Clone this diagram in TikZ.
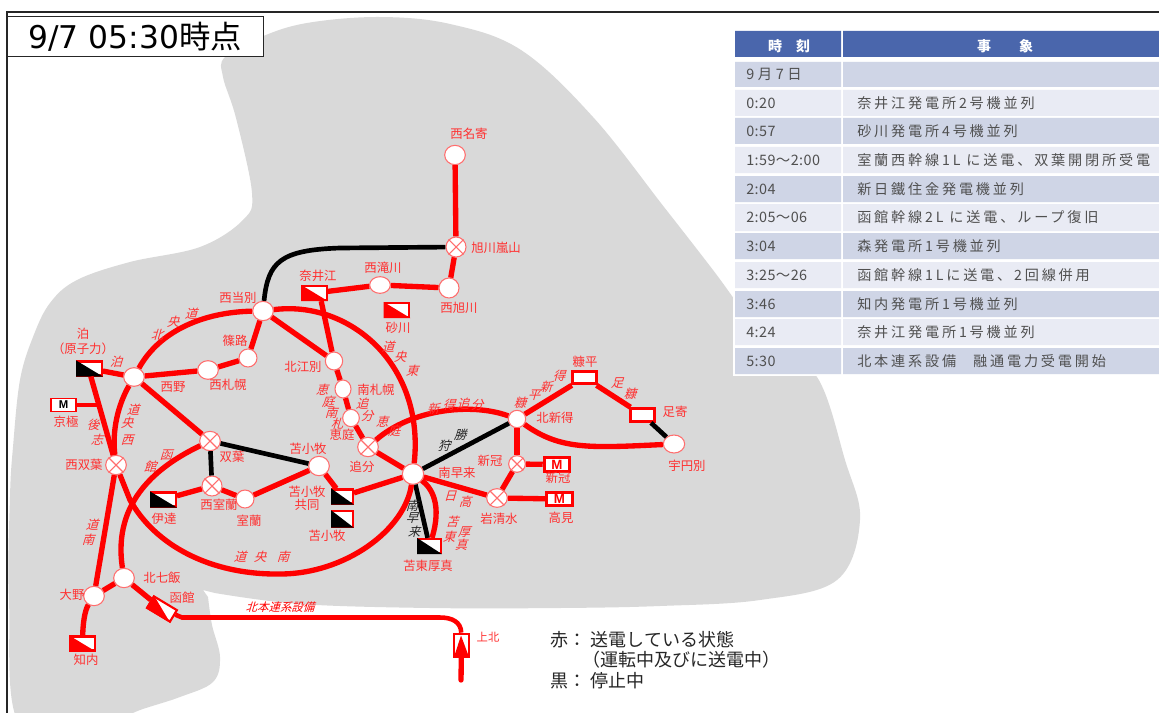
\documentclass[tikz,border=0pt]{standalone}
\usepackage{fontspec}
\usetikzlibrary{shapes.geometric}
\setmainfont{Noto Sans CJK JP}
\newfontfamily\itf[FakeSlant=0.3]{Noto Sans CJK JP}
\newfontfamily\tabf[LetterSpace=20]{Noto Sans CJK JP}
\newfontfamily\timef[LetterSpace=3]{Noto Sans CJK JP}
\newfontfamily\titlef{DejaVu Sans}
\newfontfamily\mf{Liberation Sans}
\definecolor{rd}{HTML}{FF0000}
\definecolor{lbl}{HTML}{FF3030}
\definecolor{gr}{HTML}{D9D9D9}
\definecolor{hdr}{HTML}{4A66AC}
\definecolor{rowa}{HTML}{CFD5E6}
\definecolor{rowb}{HTML}{E9EBF4}
\definecolor{ptxt}{HTML}{505050}
\tikzset{
  stn/.style={ellipse,draw=lbl!70!white,fill=white,line width=.8pt,inner sep=0pt,minimum width=15.5pt,minimum height=14.5pt},
  xl/.style={draw=lbl!70!white,line width=.8pt},
  genbox/.style={rectangle,draw=rd,fill=white,line width=1.6pt,inner sep=0pt,minimum width=18.5pt,minimum height=10.5pt},
  mbox/.style={rectangle,draw=rd,fill=white,line width=2.4pt,inner sep=0pt,minimum width=19pt,minimum height=10pt,font=\mf\bfseries\fontsize{10}{10}\selectfont,text=rd},
  wbox/.style={rectangle,draw=rd,fill=white,line width=2.2pt,inner sep=0pt,minimum width=18pt,minimum height=9.5pt},
  lab/.style={text=lbl,font=\fontsize{9.3}{10}\selectfont,inner sep=0pt},
  slab/.style={text=lbl,font=\itf\fontsize{9.3}{10}\selectfont,inner sep=0pt},
  klab/.style={text=black!85,font=\itf\fontsize{9.3}{10}\selectfont,inner sep=0pt},
  rl/.style={draw=rd,line width=4pt},
  bl/.style={draw=black,line width=3.5pt},
  leg/.style={text=black!85,font=\fontsize{13.5}{14}\selectfont,inner sep=0pt,anchor=west},
  ttime/.style={text=ptxt,font=\timef\fontsize{10.8}{11}\selectfont,inner sep=0pt,anchor=west},
  tev/.style={text=ptxt,font=\tabf\fontsize{10.6}{11}\selectfont,inner sep=0pt,anchor=west},
  thead/.style={text=white,font=\bfseries\fontsize{10.5}{11}\selectfont,inner sep=0pt}
}
\newcounter{labn}
\newcommand\Lab[3][lab]{\stepcounter{labn}\node[#1] (L\thelabn) at (#2) {#3};}
\newcommand\Stn[3][]{\node[stn,#1] (#2) at (#3) {};}
\newcommand\Xst[3][]{\node[stn,#1] (#2) at (#3) {};\draw[xl] (#2.45)--(#2.225) (#2.135)--(#2.315);}
\newcommand\Gen[4][]{\node[genbox,#1] (#2) at (#3) {};\fill[#4] (#2.north west)--(#2.south east)--(#2.south west)--cycle;}
\newcommand\Row[5]{\fill[#3] (735,#1) rectangle (841,#2) (843,#1) rectangle (1159,#2);
  \stepcounter{labn}\node[ttime] (T\thelabn) at (746,{(#1+#2)/2}) {#4};
  \node[tev] (E\thelabn) at (857,{(#1+#2)/2}) {#5};}
\begin{document}
\begin{tikzpicture}[x=.75pt,y=-.75pt]
\useasboundingbox (0,0) rectangle (1159,713);
\fill[white] (0,0) rectangle (1159,713);
\clip (0,0) rectangle (1159,713);
% land
\fill[gr] (203,590) -- (208,597) -- plot[smooth,tension=.6] coordinates {(208,597) (212,625) (220,657) (213,682) (180,697) (140,710) (100,725) (20,725) (9,600) (10,497) (13,447) (20,380) (33,337) (50,303) (77,280) (130,262) (200,247) (243,220) (252,193) (236,118) (223,77) (225,57) (261,37) (307,23) (379,17) (450,24) (521,50) (593,117) (664,207) (713,270) (770,345) (817,377) (845,460) (860,520) (837,580) (760,600) (660,606) (560,608) (430,608) (300,604) (215,593)} -- cycle;
% frame
\draw[black!85,line width=.9pt] (7,725) -- (7,12) -- (1170,12);
\node[rectangle,draw=black!85,fill=white,line width=.9pt,inner sep=0pt,minimum width=192pt,minimum height=30pt,anchor=north west] (title) at (7,16) {};
\node[inner sep=0pt] (titletxt) at (135,37) {\titlef\fontsize{23.5}{25}\selectfont 9/7 05:30{\rmfamily 時点}};
% table
\fill[white] (733,29) rectangle (1159,376);
\fill[hdr] (735,31) rectangle (841,57) (843,31) rectangle (1159,57);
\node[thead] (h1) at (789,46) {時　刻};
\node[thead] (h2) at (1005,46) {事　　象};
\Row{62}{87}{rowa}{9\hspace{.25em}月\hspace{.25em}7\hspace{.25em}日}{}
\Row{90}{116}{rowb}{0:20}{奈井江発電所2号機並列}
\Row{118}{144}{rowa}{0:57}{砂川発電所4号機並列}
\Row{147}{173}{rowb}{1:59〜2:00}{室蘭西幹線1L に送電、双葉開閉所受電}
\Row{176}{202}{rowa}{2:04}{新日鐵住金発電機並列}
\Row{204}{231}{rowb}{2:05〜06}{函館幹線2L に送電、ループ復旧}
\Row{233}{259}{rowa}{3:04}{森発電所1号機並列}
\Row{262}{288}{rowb}{3:25〜26}{函館幹線1Lに送電、2回線併用}
\Row{291}{317}{rowa}{3:46}{知内発電所1号機並列}
\Row{319}{345}{rowb}{4:24}{奈井江発電所1号機並列}
\Row{348}{374}{rowa}{5:30}{北本連系設備\hspace{1.2em}融通電力受電開始}
% stations
\Stn{nNayo}{455,155}
\Xst[minimum width=15pt,minimum height=15pt]{nAsa}{456,247}
\Stn[minimum width=15pt,minimum height=15pt]{nNAs}{449,288}
\Stn[minimum height=12.5pt]{nTak}{380,285}
\Stn{nTob}{263,311}
\Stn[minimum width=13.5pt,minimum height=13.5pt]{nShi}{248,358}
\Stn[minimum height=14pt]{nNis}{134,377}
\Stn[minimum height=14pt]{nSap}{208,370}
\Xst{nFut}{210,441}
\Xst{nWF}{116,465}
\Xst[minimum width=15pt,minimum height=15pt]{nWM}{212,486}
\Stn[minimum width=13.5pt,minimum height=13.5pt]{nMur}{245,499}
\Stn{nTom}{319,466}
\Xst{nOi}{368,447}
\Stn[minimum width=12.5pt,minimum height=13pt]{nEn}{351,418}
\Stn[minimum width=12pt,minimum height=13.5pt]{nMS}{343,389}
\Stn[minimum width=13pt,minimum height=13.5pt]{nKE}{334,361}
\Stn[minimum width=16pt,minimum height=15.5pt]{nMH}{413,474}
\Xst[minimum width=15.5pt,minimum height=14pt]{nIwa}{497,498}
\Stn[minimum width=13pt,minimum height=13pt]{nKS}{517,419}
\Xst[minimum width=12.5pt,minimum height=12.5pt]{nNK}{517,464}
\Stn[minimum width=16pt,minimum height=13.5pt]{nUe}{674,444}
\Stn{nKN}{124,578}
\Stn{nOno}{94,596}
% generators
\Gen{gNai}{314.5,293}{rd}
\Gen{gSun}{397,310}{rd}
\Gen{gTom}{89.5,368.5}{black}
\Gen{gDat}{163.5,499.5}{black}
\Gen[minimum width=15.5pt]{gKyo}{342.5,496.5}{black}
\Gen[minimum width=15.5pt,minimum height=11.5pt]{gTk}{342.5,519}{black}
\Gen[minimum width=17pt]{gAts}{429.5,546}{black}
\Gen{gShi}{82.5,643.5}{rd}
\Gen[rotate=-31,minimum width=20pt,minimum height=10pt]{gHak}{162,609}{rd}
% M boxes and plain boxes
\node[mbox,line width=1.1pt,text=black,font=\mf\bfseries\fontsize{8.5}{8.5}\selectfont] (mKyo) at (63.5,405) {M};
\node[mbox] (mNK) at (557,464.5) {M};
\node[mbox] (mTak) at (559.5,499) {M};
\node[wbox] (bNuk) at (584.5,377.5) {};
\node[wbox] (bAsh) at (642.5,415) {};
% gate
\node[rectangle,draw=rd,fill=white,line width=1.8pt,inner sep=0pt,minimum width=11.5pt,minimum height=17.5pt] (gate) at (461.5,645.5) {};
\fill[rd] (461,635.5)--(469,657)--(454,657)--cycle;
\coordinate (gateEnd) at (461,680);
\coordinate (jct) at (96.5,405);
% black lines
\draw[bl] (nAsa) -- (340,248) .. controls (280,250) and (268,262) .. (nTob);
\draw[bl] (nFut) -- (nWM);
\draw[bl] (nFut) -- (nTom);
\draw[bl] (nMH) -- (nKS);
\draw[bl] (nMH) -- (gAts);
\draw[bl] (bAsh) -- (nUe);
% red lines
\draw[rl] (nNayo) -- (nAsa);
\draw[rl] (nAsa) -- (nNAs);
\draw[rl] (nNAs) -- (nTak);
\draw[rl] (nTak) -- (gNai);
\draw[rl] ([xshift=5pt]gNai.south) -- (nKE);
\draw[rl] (nTob) -- (nKE);
\draw[rl] (nKE) -- (nMS);
\draw[rl] (nMS) -- (nEn);
\draw[rl] (nEn) -- (nOi);
\draw[rl] (nOi) -- (nMH);
\draw[rl] (nTob) -- (nShi);
\draw[rl] (nShi) -- (nSap);
\draw[rl] (nSap) -- (nNis);
\draw[rl] (nTob) .. controls (205,312) and (160,330) .. (nNis);
\draw[rl] (nTob) .. controls (350,300) and (425,365) .. (nMH);
\draw[rl] (nWF) -- (130,500) .. controls (155,545) and (210,575) .. (280,574) .. controls (345,574) and (405,530) .. (nMH);
\draw[rl] (nNis) -- (nFut);
\draw[rl] (nNis) .. controls (118,405) and (112,430) .. (nWF);
\draw[rl] (gTom) -- (nNis);
\draw[rl] ([xshift=1pt]gTom.south) -- (nWF);
\draw[rl,line width=2.8pt] (mKyo) -- (jct);
\draw[rl] (nWF) -- (nOno);
\draw[rl] (nFut) .. controls (160,465) and (112,500) .. (nKN);
\draw[rl] (nOno) -- (nKN);
\draw[rl] (nKN) -- (gHak);
\draw[rl] (nOno) .. controls (85,610) and (83,622) .. (gShi);
\draw[rl,line width=3.4pt] (gHak) -- (182,617.5) -- (440,617.5) .. controls (452,617.5) and (461,622) .. (gate);
\draw[rl] (nWM) -- (nMur);
\draw[rl] (nMur) -- (nTom);
\draw[rl] (nWM) -- (gDat);
\draw[rl] (nTom) -- (gKyo);
\draw[rl] (gKyo) -- (nMH);
\draw[rl] (nOi) .. controls (410,410) and (470,402) .. (nKS);
\draw[rl] (nKS) -- (nNK);
\draw[rl] (nNK) -- (nIwa);
\draw[rl] (nMH) -- (nIwa);
\draw[rl] (nNK) -- (mNK);
\draw[rl] (nIwa) -- (mTak);
\draw[rl] (nMH) .. controls (432,488) and (442,505) .. (gAts);
\draw[rl] (nKS) -- (bNuk);
\draw[rl] (bNuk) -- (bAsh);
\draw[rl] (nKS) .. controls (560,450) and (590,448) .. (nUe);
\draw[rl,line cap=round] (gate) -- (gateEnd);
% station labels
\Lab{469,134}{西名寄}
\Lab[lab,anchor=west]{471,248}{旭川嵐山}
\Lab{459,308}{西旭川}
\Lab{383,268}{西滝川}
\Lab{318,276}{奈井江}
\Lab{398,328}{砂川}
\Lab{238,298}{西当別}
\Lab{235,341}{篠路}
\Lab{173,387}{西野}
\Lab{228,385}{西札幌}
\Lab{83,334}{泊}
\Lab{83,349}{（原子力）}
\Lab{66,422}{京極}
\Lab{232,457}{双葉}
\Lab{84,465}{西双葉}
\Lab{219,505}{西室蘭}
\Lab{249,521}{室蘭}
\Lab{164,519}{伊達}
\Lab{308,449}{苫小牧}
\Lab{307,492}{苫小牧}
\Lab{307,505}{共同}
\Lab{327,536}{苫小牧}
\Lab{428,566}{苫東厚真}
\Lab{362,467}{追分}
\Lab{342,435}{恵庭}
\Lab{376,390}{南札幌}
\Lab{303,367}{北江別}
\Lab{457,473}{南早来}
\Lab{499,519}{岩清水}
\Lab{555,418}{北新得}
\Lab{490,461}{新冠}
\Lab{558,478}{新冠}
\Lab{561,518}{高見}
\Lab{585,362}{糠平}
\Lab{675,412}{足寄}
\Lab{687,466}{宇円別}
\Lab{162,578}{北七飯}
\Lab{72,595}{大野}
\Lab{86,660}{知内}
\Lab{182,598}{函館}
\node[inner sep=0pt,text=lbl,font=\fontsize{8.5}{9}\selectfont] (lKami) at (488,637) {上北};
% line labels
\Lab[slab]{191,314}{道}\Lab[slab]{173,322}{央}\Lab[slab]{157,335}{北}
\Lab[slab]{116,362}{泊}
\Lab[slab]{133,410}{道}\Lab[slab]{127,423}{央}\Lab[slab]{127,440}{西}
\Lab[slab]{93,425}{後}\Lab[slab]{97,440}{志}
\Lab[slab]{166,455}{函}\Lab[slab]{150,467}{館}
\Lab[slab]{92,525}{道}\Lab[slab]{88,540}{南}
\Lab[slab]{240,557}{道}\Lab[slab]{260,557}{央}\Lab[slab]{283,557}{南}
\Lab[slab]{388,347}{道}\Lab[slab]{400,357}{央}\Lab[slab]{412,371}{東}
\Lab[slab]{322,390}{恵}\Lab[slab]{328,402}{庭}\Lab[slab]{331,413}{南}\Lab[slab]{337,424}{札}
\Lab[slab]{362,404}{追}\Lab[slab]{367,416}{分}\Lab[slab]{382,422}{恵}\Lab[slab]{394,431}{庭}
\Lab[slab]{433,409}{新}\Lab[slab]{449,405}{得}\Lab[slab]{463,404}{追}\Lab[slab]{477,405}{分}
\Lab[klab]{460,435}{勝}\Lab[klab]{444,446}{狩}
\Lab[slab]{450,496}{日}\Lab[slab]{465,502}{高}
\Lab[slab]{452,522}{苫}\Lab[slab]{449,537}{東}\Lab[slab]{464,532}{厚}\Lab[slab]{461,545}{真}
\Lab[klab]{412,506}{南}\Lab[klab]{412,518}{早}\Lab[klab]{414,532}{来}
\Lab[slab]{520,403}{糠}\Lab[slab]{534,395}{平}\Lab[slab]{546,387}{新}\Lab[slab]{559,376}{得}
\Lab[slab]{617,383}{足}\Lab[slab]{630,394}{糠}
\node[inner sep=0pt,text=rd,font=\itf\fontsize{8.6}{9}\selectfont] (lHon) at (280,607) {北本連系設備};
% legend
\node[leg] (lg1) at (550,640) {赤：\hspace{.25em}送電している状態};
\node[leg] (lg2) at (582,660) {（運転中及びに送電中）};
\node[leg] (lg3) at (550,681) {黒：\hspace{.25em}停止中};
\end{tikzpicture}
\end{document}
